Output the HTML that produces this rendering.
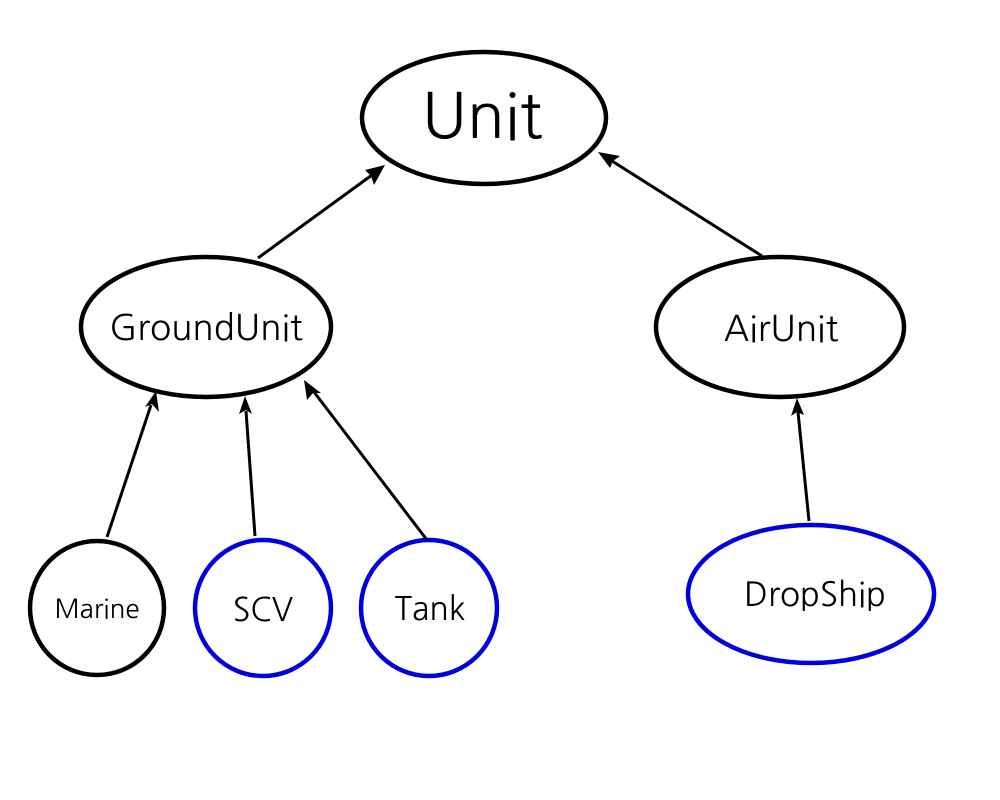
<!DOCTYPE html>
<html><head><style>html,body{margin:0;padding:0;background:#fff}</style></head>
<body>
<svg width="1000" height="800" xmlns="http://www.w3.org/2000/svg" style="display:block">
<defs>
<marker id="a" markerWidth="8" markerHeight="8" refX="7" refY="4" orient="auto" markerUnits="userSpaceOnUse" viewBox="0 0 8 8">
</marker>
</defs>
<g fill="none" stroke-width="4.5">
<ellipse cx="484" cy="118" rx="122" ry="66" stroke="#000"/>
<ellipse cx="206" cy="327" rx="125" ry="70" stroke="#000"/>
<ellipse cx="780" cy="327" rx="124" ry="70" stroke="#000"/>
<circle cx="97" cy="608" r="67" stroke="#000"/>
<circle cx="263" cy="608" r="68" stroke="#0000dd"/>
<circle cx="429" cy="608" r="68" stroke="#0000dd"/>
<ellipse cx="811" cy="594" rx="123" ry="69" stroke="#0000dd"/>
</g>
<g stroke="#000" stroke-width="3">
<line x1="258" y1="258" x2="372" y2="175"/>
<line x1="762" y1="256" x2="612" y2="161"/>
<line x1="107" y1="537" x2="151" y2="405"/>
<line x1="255" y1="536" x2="246" y2="411"/>
<line x1="427" y1="540" x2="314" y2="392"/>
<line x1="809" y1="521" x2="798" y2="412"/>
</g>
<g fill="#000">
<polygon points="385,165 365,170 371,176 374,185"/>
<polygon points="598,152 610,168 613,161 620,156"/>
<polygon points="156,391 145,407 152,404 159,412"/>
<polygon points="245,396 239,414 246,410 252,414"/>
<polygon points="304,380 307,400 313,393 321,393"/>
<polygon points="797,398 791,416 797,412 804,415"/>
</g>
<g font-family="NanumGothic, 'Liberation Sans', sans-serif" text-anchor="middle" fill="#000">
<text x="482" y="138" font-size="62">Unit</text>
<text x="206" y="340" font-size="35">GroundUnit</text>
<text x="781" y="341" font-size="35">AirUnit</text>
<text x="97" y="618" font-size="26">Marine</text>
<text x="263" y="621" font-size="32">SCV</text>
<text x="430" y="620" font-size="32">Tank</text>
<text x="815" y="606" font-size="33">DropShip</text>
</g>
</svg>
</body></html>
